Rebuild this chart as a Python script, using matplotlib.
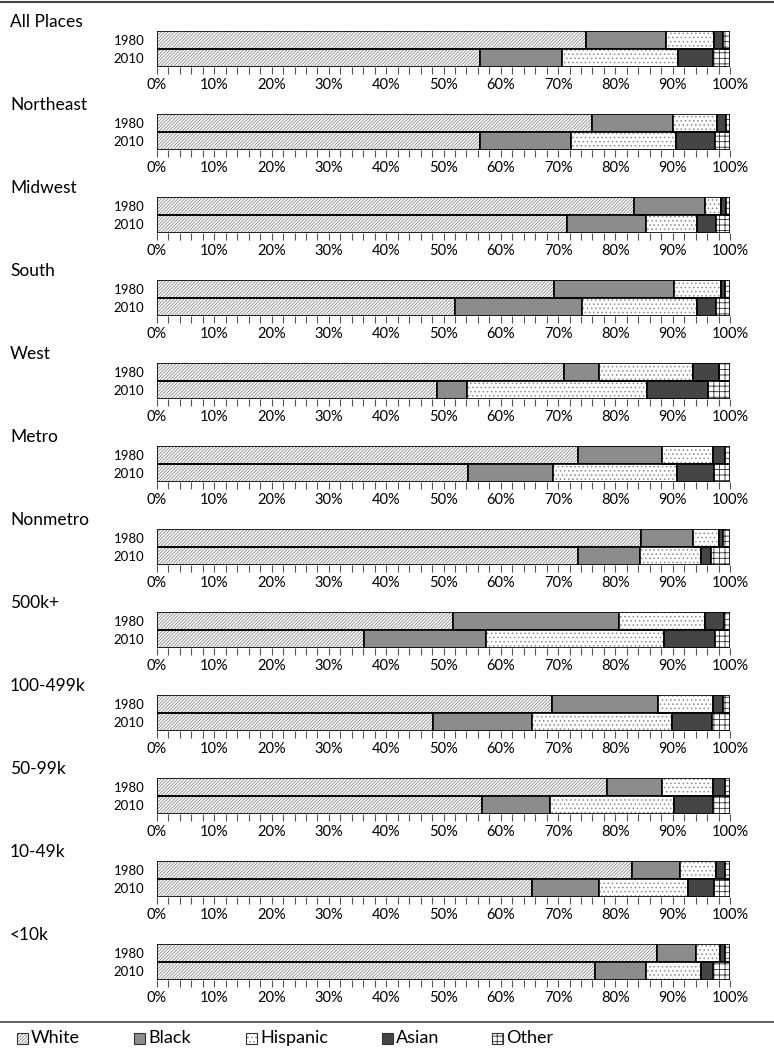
import numpy as np
import matplotlib
matplotlib.use('Agg')
from matplotlib import pyplot as plt
from matplotlib.patches import Rectangle
from matplotlib.lines import Line2D

plt.rcParams['font.family'] = ['Lato', 'DejaVu Sans']
plt.rcParams['hatch.linewidth'] = 0.6

regions = ['All Places', 'Northeast', 'Midwest', 'South', 'West', 'Metro',
           'Nonmetro', '500k+', '100-499k', '50-99k', '10-49k', '<10k']
years = ['1980', '2010']
groups = ['White', 'Black', 'Hispanic', 'Asian', 'Other']

# percent shares, one list per group, regions in order above
white_1980 = [74.8, 76.0, 83.2, 69.3, 71.0, 73.5, 84.4, 51.7, 69.0, 78.5, 82.9, 87.3]
black_1980 = [14.0, 14.0, 12.4, 21.0, 6.2, 14.6, 9.2, 28.9, 18.5, 9.7, 8.4, 6.7]
hisp_1980 = [8.4, 7.8, 2.9, 8.2, 16.3, 9.0, 4.5, 15.1, 9.6, 8.9, 6.3, 4.3]
asian_1980 = [1.6, 1.5, 0.8, 0.7, 4.6, 2.0, 0.7, 3.2, 1.7, 2.0, 1.6, 0.9]
other_1980 = [1.2, 0.7, 0.7, 0.8, 1.9, 0.9, 1.2, 1.1, 1.2, 0.9, 0.8, 0.8]

white_2010 = [56.4, 56.4, 71.6, 52.0, 48.9, 54.3, 73.5, 36.2, 48.2, 56.7, 65.4, 76.5]
black_2010 = [14.3, 15.8, 13.7, 22.2, 5.2, 14.8, 10.8, 21.3, 17.3, 11.9, 11.8, 8.8]
hisp_2010 = [20.3, 18.4, 8.9, 20.0, 31.5, 21.6, 10.6, 31.0, 24.3, 21.7, 15.4, 9.7]
asian_2010 = [6.0, 6.8, 3.4, 3.3, 10.5, 6.5, 1.7, 8.8, 7.0, 6.7, 4.6, 2.0]
other_2010 = [3.0, 2.6, 2.4, 2.5, 3.9, 2.8, 3.4, 2.7, 3.2, 3.0, 2.8, 3.0]

data_1980 = [white_1980, black_1980, hisp_1980, asian_1980, other_1980]
data_2010 = [white_2010, black_2010, hisp_2010, asian_2010, other_2010]

# fill, hatch, hatch colour per group
styles = [('white', '//////////', '#8a8a8a'),
          ('#8c8c8c', None, '#8c8c8c'),
          ('white', '....', '#8a8a8a'),
          ('#454545', None, '#454545'),
          ('white', '+++', '#303030')]

W, H = 774, 1048
fig = plt.figure(figsize=(W / 100, H / 100), dpi=100)

step = 83
for i, name in enumerate(regions):
    top = 31 + step * i
    ax = fig.add_axes([157 / W, 1 - (top + 36) / H, 573 / W, 36 / H])
    y = np.array([1, 0])
    left = np.zeros(2)
    for g in range(len(groups)):
        vals = np.array([data_1980[g][i], data_2010[g][i]])
        fc, hatch, hc = styles[g]
        ax.barh(y, vals, left=left, height=1.0, color=fc, hatch=hatch,
                edgecolor=hc, linewidth=0)
        ax.barh(y, vals, left=left, height=1.0, fill=False,
                edgecolor='black', linewidth=1.2)
        left += vals
    ax.set_xlim(0, 100)
    ax.set_ylim(-0.5, 1.5)
    ax.set_xticks(np.arange(0, 101, 10))
    ax.set_xticklabels([f'{v}%' for v in range(0, 101, 10)], fontsize=10.5)
    ax.set_xticks(np.arange(0, 101, 2), minor=True)
    ax.set_yticks(y)
    ax.set_yticklabels(years, fontsize=9.5)
    ax.tick_params(axis='y', length=0, pad=9)
    ax.tick_params(axis='x', which='both', direction='out', length=5,
                   width=0.8, color='#555555', pad=3)
    for s in ['top', 'right', 'left', 'bottom']:
        ax.spines[s].set_visible(False)
    fig.text(10 / W, 1 - (22 + step * i) / H, name, fontsize=12.5,
             va='center', ha='left')

# frame lines
fig.add_artist(Line2D([0, 1], [1 - 1.5 / H] * 2, color='#444444', lw=1.5))
fig.add_artist(Line2D([0, 1], [1 - 1022 / H] * 2, color='#444444', lw=1.2))

# legend
leg_x = [17, 134, 246, 382, 492]
for g, name in enumerate(groups):
    fc, hatch, hc = styles[g]
    x0 = leg_x[g] / W
    y0 = 1 - 1044 / H
    fig.add_artist(Rectangle((x0, y0), 11 / W, 11 / H, facecolor=fc,
                             hatch=hatch, edgecolor=hc, linewidth=0,
                             transform=fig.transFigure))
    fig.add_artist(Rectangle((x0, y0), 11 / W, 11 / H, fill=False,
                             edgecolor='#333333', linewidth=0.8,
                             transform=fig.transFigure))
    fig.text(x0 + 14 / W, 1 - 1038 / H, name, fontsize=13, va='center',
             ha='left')

fig.savefig('out.png', dpi=100)
